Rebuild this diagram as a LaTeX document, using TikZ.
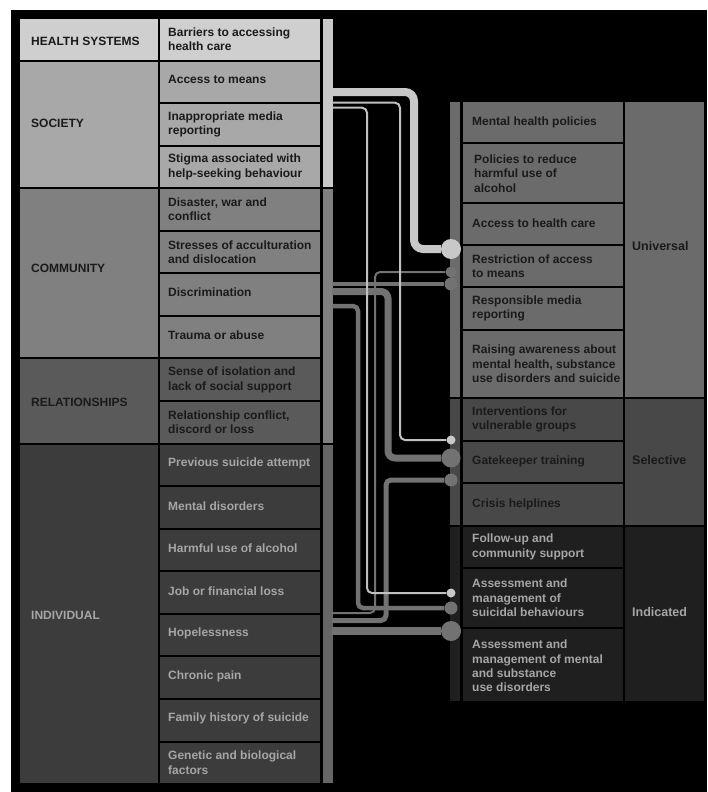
\documentclass[tikz,border=0pt]{standalone}
\usepackage{fontspec}
\setmainfont{Liberation Sans}
\definecolor{cHS}{HTML}{CFCFCF}
\definecolor{cSO}{HTML}{A8A8A8}
\definecolor{cCO}{HTML}{808080}
\definecolor{cRE}{HTML}{5A5A5A}
\definecolor{cIN}{HTML}{3C3C3C}
\definecolor{cUN}{HTML}{6B6B6B}
\definecolor{cSE}{HTML}{484848}
\definecolor{cID}{HTML}{1F1F1F}
\definecolor{barA}{HTML}{C8C8C8}
\definecolor{barB}{HTML}{808080}
\definecolor{barC}{HTML}{666666}
\definecolor{tDark}{HTML}{1A1A1A}
\definecolor{tLight}{HTML}{A6A6A6}
\definecolor{lnLight}{HTML}{C8C8C8}
\definecolor{lnThin}{HTML}{C0C0C0}
\definecolor{lnGray}{HTML}{727272}
\begin{document}
\begin{tikzpicture}[x=1pt,y=-1pt,
  box/.style={rectangle, inner sep=0pt, draw=none},
  fbox/.style={box, minimum width=160},
  cbox/.style={box, minimum width=138},
  rbar/.style={box, minimum width=10},
  lbox/.style={box, minimum width=79},
  ftxt/.style={anchor=west, inner sep=0pt, align=left, font=\fontsize{12}{14.3}\selectfont\bfseries},
  cat/.style={anchor=west, inner sep=0pt, font=\fontsize{12}{14}\selectfont\bfseries},
  lvl/.style={anchor=west, inner sep=0pt, font=\fontsize{12.5}{14}\selectfont\bfseries},
  dot/.style={circle, inner sep=0pt, draw=none},
  conn/.style={line cap=butt, line join=round}
]
\useasboundingbox (0,0) rectangle (707,792);
\fill[white] (0,0) rectangle (707,792);
\fill[black] (11,10) rectangle (707,792);

% ---------- left: categories ----------
\node[cbox, fill=cHS, minimum height=40.56] (catHS) at (89,39.28) {};
\node[cbox, fill=cSO, minimum height=125.68] (catSO) at (89,124.4) {};
\node[cbox, fill=cCO, minimum height=168.24] (catCO) at (89,273.36) {};
\node[cbox, fill=cRE, minimum height=83.12] (catRE) at (89,401.04) {};
\node[cbox, fill=cIN, minimum height=338.48] (catIN) at (89,613.84) {};
\node[cat, text=tDark] (tHS) at (31,41) {HEALTH SYSTEMS};
\node[cat, text=tDark] (tSO) at (31,123.7) {SOCIETY};
\node[cat, text=tDark] (tCO) at (31,268) {COMMUNITY};
\node[cat, text=tDark] (tRE) at (31,402.5) {RELATIONSHIPS};
\node[cat, text=tLight] (tIN) at (31,615.5) {INDIVIDUAL};

% ---------- left: bar ----------
\node[rbar, fill=barA, minimum height=168.24] (barL1) at (328,103.12) {};
\node[rbar, fill=barB, minimum height=253.36] (barL2) at (328,315.92) {};
\node[rbar, fill=barC, minimum height=338.48] (barL3) at (328,613.84) {};

% ---------- left: factors ----------
\node[fbox, fill=cHS, minimum height=40.56] (f0) at (240,39.28) {};
\node[fbox, fill=cSO, minimum height=40.56] (f1) at (240,81.84) {};
\node[fbox, fill=cSO, minimum height=40.56] (f2) at (240,124.40) {};
\node[fbox, fill=cSO, minimum height=40.56] (f3) at (240,166.96) {};
\node[fbox, fill=cCO, minimum height=40.56] (f4) at (240,209.52) {};
\node[fbox, fill=cCO, minimum height=40.56] (f5) at (240,252.08) {};
\node[fbox, fill=cCO, minimum height=40.56] (f6) at (240,294.64) {};
\node[fbox, fill=cCO, minimum height=40.56] (f7) at (240,337.20) {};
\node[fbox, fill=cRE, minimum height=40.56] (f8) at (240,379.76) {};
\node[fbox, fill=cRE, minimum height=40.56] (f9) at (240,422.32) {};
\node[fbox, fill=cIN, minimum height=40.56] (f10) at (240,464.88) {};
\node[fbox, fill=cIN, minimum height=40.56] (f11) at (240,507.44) {};
\node[fbox, fill=cIN, minimum height=40.56] (f12) at (240,550.00) {};
\node[fbox, fill=cIN, minimum height=40.56] (f13) at (240,592.56) {};
\node[fbox, fill=cIN, minimum height=40.56] (f14) at (240,635.12) {};
\node[fbox, fill=cIN, minimum height=40.56] (f15) at (240,677.68) {};
\node[fbox, fill=cIN, minimum height=40.56] (f16) at (240,720.24) {};
\node[fbox, fill=cIN, minimum height=40.56] (f17) at (240,762.80) {};

\node[ftxt, text=tDark] (ft0) at (168,39.28) {Barriers to accessing\\health care};
\node[ftxt, text=tDark] (ft1) at (168,79.84) {Access to means};
\node[ftxt, text=tDark] (ft2) at (168,124.40) {Inappropriate media\\reporting};
\node[ftxt, text=tDark] (ft3) at (168,166.96) {Stigma associated with\\help-seeking behaviour};
\node[ftxt, text=tDark] (ft4) at (168,209.52) {Disaster, war and\\conflict};
\node[ftxt, text=tDark] (ft5) at (168,252.08) {Stresses of acculturation\\and dislocation};
\node[ftxt, text=tDark] (ft6) at (168,292.64) {Discrimination};
\node[ftxt, text=tDark] (ft7) at (168,335.70) {Trauma or abuse};
\node[ftxt, text=tDark] (ft8) at (168,379.76) {Sense of isolation and\\lack of social support};
\node[ftxt, text=tDark] (ft9) at (168,422.32) {Relationship conflict,\\discord or loss};
\node[ftxt, text=tLight] (ft10) at (168,463.38) {Previous suicide attempt};
\node[ftxt, text=tLight] (ft11) at (168,505.94) {Mental disorders};
\node[ftxt, text=tLight] (ft12) at (168,548.50) {Harmful use of alcohol};
\node[ftxt, text=tLight] (ft13) at (168,591.06) {Job or financial loss};
\node[ftxt, text=tLight] (ft14) at (168,633.62) {Hopelessness};
\node[ftxt, text=tLight] (ft15) at (168,676.18) {Chronic pain};
\node[ftxt, text=tLight] (ft16) at (168,718.74) {Family history of suicide};
\node[ftxt, text=tLight] (ft17) at (168,762.80) {Genetic and biological\\factors};

% ---------- right: bar ----------
\node[rbar, fill=cUN, minimum height=295] (barR1) at (455.25,249.5) {};
\node[rbar, fill=cSE, minimum height=126] (barR2) at (455.25,462) {};
\node[rbar, fill=cID, minimum height=174] (barR3) at (455.25,614) {};

% ---------- right: interventions ----------
\node[fbox, fill=cUN, minimum height=40] (r1) at (543,122) {};
\node[fbox, fill=cUN, minimum height=58] (r2) at (543,173) {};
\node[fbox, fill=cUN, minimum height=40] (r3) at (543,224) {};
\node[fbox, fill=cUN, minimum height=40] (r4) at (543,266) {};
\node[fbox, fill=cUN, minimum height=41] (r5) at (543,308.5) {};
\node[fbox, fill=cUN, minimum height=66] (r6) at (543,364) {};
\node[fbox, fill=cSE, minimum height=41] (r7) at (543,419.5) {};
\node[fbox, fill=cSE, minimum height=40] (r8) at (543,462) {};
\node[fbox, fill=cSE, minimum height=41] (r9) at (543,504.5) {};
\node[fbox, fill=cID, minimum height=40] (r10) at (543,547) {};
\node[fbox, fill=cID, minimum height=58] (r11) at (543,598) {};
\node[fbox, fill=cID, minimum height=72] (r12) at (543,665) {};

\node[ftxt, text=tDark] (rt1) at (472,122.5) {Mental health policies};
\node[ftxt, text=tDark] (rt2) at (474,173.5) {Policies to reduce\\harmful use of\\alcohol};
\node[ftxt, text=tDark] (rt3) at (472,223) {Access to health care};
\node[ftxt, text=tDark] (rt4) at (472,266) {Restriction of access\\to means};
\node[ftxt, text=tDark] (rt5) at (472,308.5) {Responsible media\\reporting};
\node[ftxt, text=tDark] (rt6) at (472,364) {Raising awareness about\\mental health, substance\\use disorders and suicide};
\node[ftxt, text=tDark] (rt7) at (472,419.5) {Interventions for\\vulnerable groups};
\node[ftxt, text=tDark] (rt8) at (472,461) {Gatekeeper training};
\node[ftxt, text=tDark] (rt9) at (472,504) {Crisis helplines};
\node[ftxt, text=tLight] (rt10) at (472,547) {Follow-up and\\community support};
\node[ftxt, text=tLight] (rt11) at (472,598) {Assessment and\\management of\\suicidal behaviours};
\node[ftxt, text=tLight] (rt12) at (472,666) {Assessment and\\management of mental\\and substance\\use disorders};

% ---------- right: levels ----------
\node[lbox, fill=cUN, minimum height=295] (lvU) at (664.5,249.5) {};
\node[lbox, fill=cSE, minimum height=126] (lvS) at (664.5,462) {};
\node[lbox, fill=cID, minimum height=174] (lvI) at (664.5,614) {};
\node[lvl, text=tDark] (ltU) at (632,246.5) {Universal};
\node[lvl, text=tDark] (ltS) at (632,460) {Selective};
\node[lvl, text=tLight] (ltI) at (632,612.5) {Indicated};

% ---------- connector end points ----------
\coordinate (s1) at (332,92);
\coordinate (s2) at (332,102.7);
\coordinate (s3) at (332,107.7);
\coordinate (s4) at (332,613);
\coordinate (s5) at (332,284);
\coordinate (s6) at (332,291.5);
\coordinate (s7) at (332,306);
\coordinate (s8) at (332,620.5);
\coordinate (s9) at (332,631);
\coordinate (k1) at (414,249);
\coordinate (k2) at (400,440);
\coordinate (k3) at (367,593);
\coordinate (k4) at (375,272);
\coordinate (k6) at (388,458);
\coordinate (k7) at (358,608);
\coordinate (k8) at (386,480);

\node[dot, fill=lnLight, minimum size=20] (d1) at (451,249) {};
\node[dot, fill=lnLight, minimum size=9] (d2) at (451,440) {};
\node[dot, fill=lnLight, minimum size=9] (d3) at (451,593) {};
\node[dot, fill=lnGray, minimum size=11] (d4) at (451,272) {};
\node[dot, fill=lnGray, minimum size=13] (d5) at (451,284) {};
\node[dot, fill=lnGray, minimum size=19] (d6) at (451,458) {};
\node[dot, fill=lnGray, minimum size=13] (d7) at (451,608) {};
\node[dot, fill=lnGray, minimum size=13] (d8) at (451,480) {};
\node[dot, fill=lnGray, minimum size=20] (d9) at (451,631) {};

% gray connectors
\draw[conn, lnGray, line width=2, rounded corners=5] (s4) -| (k4) -- (d4);
\draw[conn, lnGray, line width=4.5] (s5) -- (d5);
\draw[conn, lnGray, line width=7, rounded corners=7] (s6) -| (k6) -- (d6);
\draw[conn, lnGray, line width=4.5, rounded corners=5] (s7) -| (k7) -- (d7);
\draw[conn, lnGray, line width=5, rounded corners=5] (s8) -| (k8) -- (d8);
\draw[conn, lnGray, line width=8] (s9) -- (d9);
% light connectors
\draw[conn, lnThin, line width=2, rounded corners=5] (s2) -| (k2) -- (d2);
\draw[conn, lnThin, line width=2, rounded corners=5] (s3) -| (k3) -- (d3);
\draw[conn, lnLight, line width=8, rounded corners=9] (s1) -| (k1) -- (d1);
\end{tikzpicture}
\end{document}
